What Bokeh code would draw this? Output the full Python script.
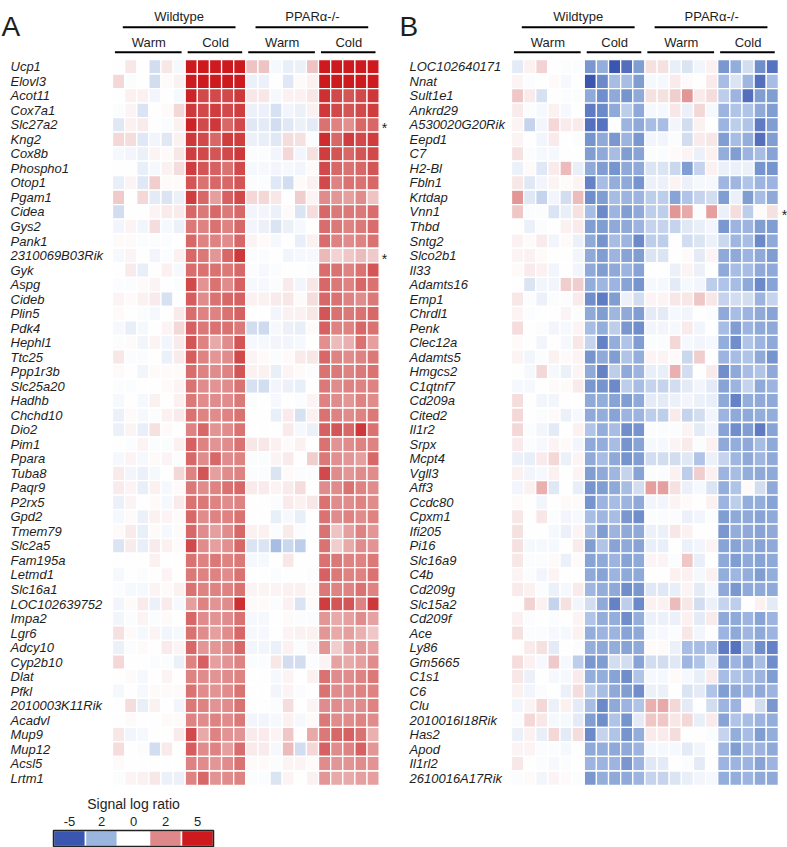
from bokeh.plotting import figure
from bokeh.models import Range1d, LinearColorMapper, ColumnDataSource
from bokeh.layouts import row
from bokeh.embed import file_html
from bokeh.resources import INLINE
from bokeh.core.properties import value
from bokeh.transform import transform
import numpy as np

# ---------------- data ----------------
genotypes = ["Wildtype", "PPARα-/-"]
conditions = ["Warm", "Cold", "Warm", "Cold"]
group_sizes = [6, 5, 6, 5]

legend_title = "Signal log ratio"
legend_values = [-5, -2, 0, 2, 5]
legend_labels = ["-5", "2", "0", "2", "5"]

genes_a = ["Ucp1", "Elovl3", "Acot11", "Cox7a1", "Slc27a2", "Kng2", "Cox8b", "Phospho1", "Otop1", "Pgam1",
           "Cidea", "Gys2", "Pank1", "2310069B03Rik", "Gyk", "Aspg", "Cideb", "Plin5", "Pdk4", "Hephl1",
           "Ttc25", "Ppp1r3b", "Slc25a20", "Hadhb", "Chchd10", "Dio2", "Pim1", "Ppara", "Tuba8", "Paqr9",
           "P2rx5", "Gpd2", "Tmem79", "Slc2a5", "Fam195a", "Letmd1", "Slc16a1", "LOC102639752", "Impa2", "Lgr6",
           "Adcy10", "Cyp2b10", "Dlat", "Pfkl", "2010003K11Rik", "Acadvl", "Mup9", "Mup12", "Acsl5", "Lrtm1"]
starred_a = ["Slc27a2", "2310069B03Rik"]

values_a = [
    [0, 0.5, 0, -1, 0.5, -0.2, 5, 5, 5, 5, 5, 1.3, 1.3, -0.2, -0.5, -0.4, 1.3, 5, 5, 5, 5, 5],
    [0.8, -0.1, 0, -1, 0.1, 0.3, 5, 5, 5, 5, 5, -0.4, -0.4, 0, -0.7, 0.1, 0.3, 5, 5, 5, 5, 5],
    [0, 0.3, 0.3, -0.3, 0, -0.2, 4.8, 4, 4, 4, 4.3, 0.5, 0.5, -0.2, 0.3, 0.3, 0.5, 4.5, 4, 3.8, 4, 4.3],
    [-0.1, 0.2, -0.8, 0, 0.1, 0.8, 4.3, 4, 4.2, 4, 4.2, -0.4, -0.4, -0.9, -0.3, -0.4, 0.3, 4.3, 4, 3.8, 4, 4.2],
    [-0.7, 0.3, 0.4, 0, -0.1, 0.3, 4.8, 4, 4.3, 3.5, 4, -0.7, -0.6, -1, -0.7, -0.4, -0.6, 3.3, 3, 2.7, 3.5, 3.5],
    [0.8, 0.7, -0.7, -0.3, -0.7, 0.3, 4.3, 4, 3.5, 4.2, 4.2, -0.4, -0.5, -0.7, 0.7, 0.6, -0.1, 4.6, 3.5, 4.2, 4, 4.2],
    [-0.2, -0.3, -0.4, 0.2, 0.1, 0.5, 4.2, 4, 3.8, 4, 4.3, -0.1, -0.1, -0.3, 0.8, -0.3, 0.6, 4.2, 3.8, 3.5, 3.8, 4],
    [0, 0, -0.5, -0.2, 0.3, 0.7, 4.2, 3.8, 3.6, 3.3, 4, -0.2, -0.2, -0.3, -0.2, -0.3, 0.1, 4, 3.5, 3.3, 3.5, 3.8],
    [-0.5, 0.2, -0.7, 1, 0.1, 0.1, 3.8, 3.3, 3.5, 3.5, 3.8, -0.1, -0.1, -0.7, -1, 0.1, 0.3, 4, 3, 3.3, 3.3, 3.5],
    [1.1, 0, 0.8, -0.6, -0.8, -0.4, 4.2, 3.5, 2.3, 3.6, 4, 0.8, 0.8, 0.5, 0, 1, 0.2, 2.8, 2.5, 2.3, 2.8, 1.3],
    [-1, 0, 0, 0.2, 0.4, 0.4, 3.5, 3.2, 3.5, 3.2, 3.5, -0.3, -0.3, -0.4, 0.1, -0.8, 0.7, 3.5, 3.2, 3.2, 3.2, 3.4],
    [-0.3, 0.2, -0.3, 0.7, -0.2, -0.4, 3.2, 3, 3.3, 3, 3.5, -0.3, -0.4, -0.8, -0.4, -0.2, 0, 3.4, 3.2, 3, 3.2, 3.4],
    [0.1, 0.1, -0.1, -0.1, -0.1, 0, 3.5, 3, 3, 2.8, 3.5, 0.2, 0.1, -0.2, 0, -0.5, 0.3, 3.4, 3, 2.8, 3, 3.3],
    [-0.2, 0.2, 0, -0.3, -0.1, 0.3, 3.5, 3.2, 2.5, 3.5, 4.3, -0.1, -0.1, 0, -0.3, -0.2, -0.2, 1.6, 0.9, 1.2, 1.5, 1.1],
    [0, 0.4, -0.5, 0, 0.3, -0.2, 3.4, 3.3, 3.3, 3.2, 3.5, -0.1, -0.2, -0.1, 0, 0, -0.1, 3.4, 3.3, 3, 3.3, 3.8],
    [-0.1, -0.1, 0.1, 0.2, 0, -0.1, 4, 2.6, 3.3, 2.8, 3.6, -0.2, -0.2, -0.1, 0.4, -0.3, 0.5, 3.5, 3.2, 3, 3.5, 3.3],
    [0.2, 0.1, 0.3, 0.4, -0.9, 0, 3.7, 2.8, 3.3, 3.5, 3.6, 0.3, 0.3, 0.4, 0.5, 0.1, 0.7, 3.5, 3.3, 3, 2.8, 3.2],
    [0.1, 0, -0.1, -0.2, 0, 0.4, 3.4, 3, 3, 3.3, 3.6, 0, 0, -0.3, 0.3, 0.3, 0.5, 3.8, 3.3, 3.2, 3.3, 3.5],
    [-0.2, -0.5, -0.2, 0, 0.2, 0.8, 3.6, 3.2, 3.3, 3.3, 3.2, -1, -1.1, -0.2, -0.4, -0.5, 0.1, 3.6, 3, 3, 3.5, 3.3],
    [-0.1, 0.1, -0.3, 0.2, -0.3, 0.4, 3.8, 3, 2, 2.8, 3.8, -0.2, -0.2, -0.3, -0.3, -0.2, 0, 2.7, 1.5, 1.8, 3.3, 2.3],
    [0.5, -0.1, -0.1, 0, -0.4, 0.4, 3.7, 3, 2.5, 2.8, 4, 0.2, 0.1, -0.1, 0.1, 0.4, 0.5, 3.5, 3, 2.8, 3, 3.2],
    [0.1, 0, -0.3, 0.1, 0.1, 0.1, 3.4, 3, 2.8, 3, 3.8, 0.3, 0.3, -0.5, 0.2, 0.1, -0.1, 3.3, 3.2, 3, 3.2, 3.3],
    [-0.1, -0.1, 0, 0, 0.1, 0.2, 3.3, 2.8, 2.6, 2.8, 3.3, -0.9, -1, -0.3, -0.4, -0.5, 0, 3.2, 2.8, 3, 3, 3],
    [-0.2, 0, -0.2, 0.3, 0, 0.3, 3.2, 2.8, 2.8, 2.8, 3.2, -0.1, 0, -0.2, 0, -0.1, 0.2, 3, 2.8, 2.5, 3, 2.8],
    [-0.4, 0.1, -0.2, -0.1, 0.3, 0.4, 3.3, 3, 2.8, 3, 3.3, 0, 0, -0.5, 0.4, -0.9, 0.3, 3.3, 3, 2.8, 3, 3.2],
    [-0.4, 0.2, -0.5, 0.6, 0.1, 0, 3, 3.5, 2.6, 2.8, 3.3, 0, 0, 0, 0.4, -0.2, -0.4, 3.6, 3.8, 3.5, 4.3, 3.3],
    [0, -0.1, 0.2, -0.1, -0.1, 0.3, 3.6, 3, 2.6, 2.8, 3.3, 0.5, 0.5, 0.3, 0.1, 0.3, 0, 3.3, 2.6, 2.8, 3, 3],
    [-0.2, 0.2, -0.2, 0.1, 0.2, -0.1, 3.5, 2.8, 3.5, 2.8, 3, -0.1, -0.1, 0.2, 0.4, 0, 1, 3.2, 2.7, 2.5, 2.3, 3.5],
    [0.4, -0.3, -0.4, -0.2, 0, 0.8, 3, 3.8, 2.3, 2.8, 3, -0.1, -0.1, -0.8, 0.1, -0.1, -0.1, 4, 2.8, 2.5, 2.8, 2.8],
    [0.4, 0.2, -0.5, 0.3, -0.2, 0.1, 3.2, 2.8, 3, 3.3, 3.5, 0.4, 0.4, 0.2, 0.4, 0.7, 0, 2.8, 2.8, 3.3, 3, 2.8],
    [-0.4, 0.2, 0, 0.1, -0.2, 0.4, 3.3, 3.2, 3, 2.8, 3, 0, 0, -0.1, 0.4, 0.3, 0.5, 3.3, 2.8, 2.8, 3, 2.8],
    [-0.2, 0.1, -0.4, 0.3, 0.2, 0.1, 3.5, 2.8, 3, 3, 3.3, 0, 0, -0.5, -0.2, -0.5, 0, 3.3, 2.8, 3, 2.8, 3],
    [0.1, 0.4, -0.5, 0.1, -0.2, 0.1, 3.5, 2.8, 2.3, 2.8, 3.5, 0.3, 0.3, -0.1, 0.4, -0.1, 0, 3.3, 1.3, 2.3, 3, 2.5],
    [-0.8, 0.4, -0.5, 0.4, 0.3, 0.1, 4, 2.8, 2.3, 2.7, 3.5, -0.8, -0.8, -2, -1.2, -1.5, 0, 3.3, 1, 2, 2.8, 2.6],
    [0, 0, 0, 0.3, 0, 0, 3.3, 3, 3.2, 3, 3.2, -0.2, -0.2, 0, 0.5, 0, 0, 3.3, 3.2, 3, 3, 3.2],
    [-0.2, 0, -0.1, 0, 0.2, 0, 3.2, 3, 3, 2.8, 3.3, 0, 0, -0.1, 0, 0, -0.1, 3.6, 3.2, 3, 3, 3.3],
    [-0.1, -0.2, -0.2, 0.2, 0.1, 0.3, 3.3, 3, 3, 3, 3.3, 0.2, 0.2, 0.2, 0.3, 0.3, 0.1, 3.2, 3, 3, 3.3, 3],
    [-0.3, 0.1, 0.4, -0.4, 0.4, -0.2, 2.3, 3, 2.6, 2.8, 4.5, 0.1, 0.1, -0.1, 0.3, -0.8, 0.1, 4.2, 3.8, 3.8, 3, 4.3],
    [-0.3, -0.1, 0.2, -0.1, 0.1, 0, 3.5, 2.8, 2.6, 2.8, 3.3, -0.2, -0.2, 0, 0.1, -0.1, -0.1, 2.5, 2, 2.3, 2.8, 2.2],
    [0.6, 0.1, -0.2, 0.2, -0.3, -0.2, 3.3, 2.8, 2.3, 2.8, 3.5, -0.2, -0.2, 0, 0.2, 0.3, 0.3, 2.5, 2, 2.3, 1.8, 1.2],
    [-0.4, -0.1, 0.1, 0, 0.4, 0.2, 3.5, 2.5, 2.5, 2.8, 3.5, -0.3, -0.3, -0.4, 0.3, -0.1, 0.2, 2.5, 1, 2.2, 2.5, 2.2],
    [0.8, 0, 0, -0.1, -0.1, -0.4, 3, 3.6, 2.3, 2.6, 3, -0.1, -0.1, 0.5, -1, -1, -0.1, 0.2, 2.2, 2, 2.3, 2.8],
    [0, 0.1, -0.2, 0, 0.2, 0, 3, 2.8, 2.6, 2.8, 3, 0, 0, -0.2, 0.2, 0, 0.3, 3.3, 2.8, 2.8, 3, 3.2],
    [-0.2, 0, -0.2, 0.1, 0.1, 0.1, 3.3, 2.8, 2.6, 2.8, 3.3, 0, 0, -0.3, 0.2, -0.1, 0, 3.3, 2.8, 2.8, 3, 3],
    [0, 0.7, -0.5, 0.3, 0, -0.3, 3.2, 3, 2.6, 2.8, 3.3, 0, 0, -0.1, 0.7, 0, 0.2, 2.8, 2.8, 2.6, 2.8, 3],
    [0, 0.1, 0, 0, 0.1, 0.1, 3, 2.8, 3, 2.8, 3.2, -0.3, -0.3, -0.2, 0.3, -0.2, 0.1, 3.2, 2.8, 2.8, 3, 2.8],
    [0.5, -0.3, -0.2, 0, 0, 0.4, 4, 2, 3, 2.6, 2.6, 0.4, 0.4, 0.2, 1.2, 0, 2, 3.2, 3.5, 3.6, 3.3, 1.8],
    [0.7, 0, -0.1, -1, 0.4, 0, 3.7, 2.8, 3, 2.3, 3.4, 0.4, 0.4, -0.2, 1.5, -1, 0.8, 3.6, 2.8, 3, 3.6, 2.5],
    [0.1, 0, 0, 0, 0, 0, 3, 2.8, 2.5, 2.8, 3.3, 0.1, 0.1, -0.1, 0.2, 0.2, 0.1, 2.8, 2.5, 2.6, 2.8, 2.6],
    [-0.1, 0.2, 0.3, 0.5, -0.4, -0.4, 3, 3.5, 2.6, 2.8, 3, -0.1, -0.1, -0.8, 0.2, 0, 0.3, 2.5, 2, 2, 2.3, 2.3],
]

genes_b = ["LOC102640171", "Nnat", "Sult1e1", "Ankrd29", "A530020G20Rik", "Eepd1", "C7", "H2-Bl", "Fbln1", "Krtdap",
           "Vnn1", "Thbd", "Sntg2", "Slco2b1", "Il33", "Adamts16", "Emp1", "Chrdl1", "Penk", "Clec12a",
           "Adamts5", "Hmgcs2", "C1qtnf7", "Cd209a", "Cited2", "Il1r2", "Srpx", "Mcpt4", "Vgll3", "Aff3",
           "Ccdc80", "Cpxm1", "Ifi205", "Pi16", "Slc16a9", "C4b", "Cd209g", "Slc15a2", "Cd209f", "Ace",
           "Ly86", "Gm5665", "C1s1", "C6", "Clu", "2010016I18Rik", "Has2", "Apod", "Il1rl2", "2610016A17Rik"]
starred_b = ["Vnn1"]

values_b = [
    [-0.6, 0.3, 0.9, 0, -0.1, -0.1, -3.2, -2.5, -5, -4.3, -3, 0.6, 0.6, -0.5, -0.8, -0.3, 0.3, -3.2, -2.5, -1, -3.5, -4.2],
    [0.2, -0.1, 0, 0.1, -0.2, 0, -5, -3.6, -2, -2, -3, -0.2, -0.2, 0.4, 0.1, 0, 0.4, -2, -0.8, -2.2, -4.3, -2],
    [1.2, 0.4, -0.9, 0, -0.1, -0.1, -2.6, -3.5, -2.6, -3.3, -2.6, 0.6, 0.6, 1, 2.5, 0.4, 0.7, -1.5, -2.3, -4.3, -3, -3],
    [0.4, -0.1, -0.2, 0.3, -0.2, 0, -4, -3.6, -2.6, -1.5, -2.6, -0.2, -0.2, 0.5, -0.4, 0.8, -0.2, -2.3, -1.8, -1.8, -2.6, -3],
    [0.2, -1.3, -0.3, 0.8, 0.4, 0.4, -4.3, -4.2, 0, -2.3, -2.6, -2, -2, -0.3, -1, 0.3, 0, -2.3, -1.5, -1.8, -4, -3],
    [0.2, 0, -0.3, 0.4, 0, -0.1, -3.3, -2.6, -3.2, -2.3, -3.2, -0.3, -0.3, -0.1, -1, 0.4, 0.5, -3, -2, -2.5, -4.3, -3],
    [0.6, -0.1, -0.2, -0.2, 0, 0, -3, -2.6, -2, -3, -2.8, -0.1, -0.1, 0.1, 0.2, -0.4, 0.3, -2.5, -3, -2.3, -2, -2.8],
    [-0.4, 0.1, -0.7, 0.4, 1.5, -0.5, -2.6, -3, -3.3, -2.6, -2.6, -0.8, -0.8, -1.2, -3, -1.3, 0.3, -0.4, -0.4, -0.4, -3.3, -3.3],
    [0.5, -0.7, -0.3, 0.2, 0.1, 0.2, -3.8, -2, -2.5, -2.6, -3.3, -0.4, -0.4, 0.2, -0.4, -0.2, -0.2, -2.2, -2.2, -1.8, -2.3, -2.3],
    [2.5, -0.7, -1.3, -0.3, -1, 1.5, -3.5, -3, -2, -2.3, -2.3, -1.5, -1.5, -2.8, -1.8, -1.3, -1, -3, -0.4, -3, -2, -2.6],
    [1.2, -0.1, -0.1, -0.8, -0.5, 0.6, -2, -3.6, -2.3, -3, -2.6, -1.5, -1.5, 2.5, 2, -0.1, 2.3, -0.4, 0.7, -1.5, 0.1, 0.6],
    [0, -0.4, -0.1, 0, 0.3, 0.4, -3, -3, -2.6, -2.6, -2.3, -1.3, -1.3, -1.3, -0.7, -0.5, -0.3, -3.2, -2.3, -2.3, -3, -3],
    [0.3, 0.1, 0.4, -0.3, 0.1, -0.4, -2.6, -3.3, -2, -2.3, -3.6, -1.5, -1.5, 0, -1, -0.8, -0.4, -1.2, -2.2, -2, -3.6, -2.6],
    [0.2, 0.3, 0.1, 0, 0, -0.3, -2.6, -3, -2.3, -2.8, -3, -0.8, -0.8, 0, 0.1, -0.6, 0.2, -2.6, -2.6, -2.3, -2.6, -3],
    [0.1, 0.4, 0.3, -0.3, 0, -0.3, -2.6, -3, -2.6, -2.3, -2.8, 0, 0, -0.4, 0.2, -0.4, 0, -2.6, -2, -2, -2.6, -2.6],
    [0, -0.8, -0.3, -0.3, 1, 1, -2.5, -2.2, -2.3, -2.8, -3.3, -0.2, -0.2, -0.6, -0.2, -0.3, -1.5, -1.8, -2, -2.6, -3.6, -2.8],
    [0.5, -0.1, -0.4, -0.1, -0.1, 0.4, -3.5, -4, -3, -0.4, -1, 0.2, 0.2, 0.5, 0.5, 1.2, 0.5, -1.3, -1, -1, -2.3, -1.3],
    [0.2, -0.1, 0, 0, 0.2, -0.1, -2.6, -3, -2.2, -2.6, -3, -0.6, -0.6, -0.2, -0.3, 0, -0.1, -2.6, -2, -2.3, -2.6, -2.8],
    [0.7, 0, -0.1, -0.3, -0.2, 0.2, -2, -2.5, -1.5, -3.2, -3.5, -0.3, -0.3, -0.2, 0.4, -0.3, 0, -2, -3, -2.3, -2.6, -2.6],
    [0.1, 0, -0.3, 0, -0.2, 0.5, -1.3, -3.8, -2.5, -1.8, -3, -0.1, -0.1, 0.8, -0.2, -0.3, -0.2, -2.5, -3.5, -1.8, -2.3, -2.6],
    [0.2, -0.3, -0.1, 0.3, 0.1, 0.2, -3.3, -2.6, -3, -1.8, -2.5, 0.2, 0.2, 0.1, -1.2, 1, 0, -2.3, -2, -1.8, -2.6, -3.3],
    [0, -0.2, 0.8, -0.2, -0.4, 0.2, -2.6, -3.8, -1.5, -2.6, -2.3, -0.5, -0.5, 1.8, -1, 0, 0.4, -3.5, -2.6, -2, -1.8, -2.6],
    [-0.2, -0.2, 0, 0.1, 0.1, 0.4, -3.2, -3.3, -3.6, -1.5, -2, -1.3, -1.3, -1, -0.6, -0.3, -0.6, -2.8, -2.3, -1.3, -2.6, -2.3],
    [0.7, 0, -0.3, -0.3, 0, 0, -2.6, -2.5, -2.8, -3, -2.6, -0.6, -0.6, -0.4, -0.3, -0.4, -0.5, -2.6, -3.8, -2.5, -2.6, -2.6],
    [0.8, 0, -0.1, 0.1, -0.4, -0.2, -2.6, -2.5, -2.8, -2.3, -2.3, -1.5, -1.5, 0.4, -1.3, -1, -0.3, -2.3, -2.6, -2.6, -2.5, -2.5],
    [0.8, -0.1, -0.3, -0.6, 0, 0.3, -1.8, -2.5, -2, -3.5, -3.3, -0.1, -0.1, -0.1, 0.2, -0.6, -0.3, -2.8, -3.5, -3, -4, -2.8],
    [0.4, -0.1, -0.2, 0.2, 0.1, -0.3, -2.6, -2.5, -2, -3.3, -2.8, -0.2, -0.2, 0.2, 0.4, -0.1, 0.3, -2.6, -2.5, -2.6, -2, -2.6],
    [-0.4, -0.5, 0.4, 0.8, -0.4, 0.2, -2.6, -2, -2.6, -3.3, -3, -1, -1, -1, -0.7, -1.8, -0.4, -1.3, -2.2, -2.6, -2.2, -2.6],
    [0.3, -0.3, -0.2, 0.3, 0, 0.2, -3, -2.6, -2.2, -1.3, -2.8, -0.1, -0.1, 0.3, -1.5, 1, 0.3, -2.3, -2, -2.5, -2.6, -2.6],
    [-0.3, 0.3, 1.8, -0.7, 0, -0.5, -3.3, -3, -2.6, -2, -1, 2.3, 2.3, 0.6, -0.4, -0.2, -0.8, -2.5, -1.8, 0.1, -1, -2.6],
    [0.1, 0, -0.3, 0, 0.1, 0.1, -3.3, -2.3, -2, -2.3, -2.6, -0.3, -0.3, 0.2, 0.1, 0, 0.3, -2.3, -1.5, -2.5, -2.5, -2.8],
    [0.5, 0, 0.5, -0.1, -0.3, -0.2, -2, -2.2, -2, -3.2, -3.5, -0.1, -0.1, -0.1, -0.4, -0.3, -0.1, -3, -2.6, -2.6, -2.8, -2.6],
    [0.6, 0, 0, -0.2, -0.4, 0.2, -2, -3, -2.3, -2.6, -2.6, -0.4, -0.4, 0.5, 0.3, 0, 0, -3.2, -2.5, -2.6, -2.8, -2.6],
    [0.6, -0.2, -0.2, -0.2, 0, 0.4, -3, -1.8, -2.8, -2.6, -2.8, -0.5, -0.5, 0, -0.4, -0.3, 0.2, -2.8, -2.8, -2.5, -2.8, -2.6],
    [0.5, -0.1, -0.1, 0.1, -0.4, 0.1, -2.8, -2.6, -2.3, -2.8, -2.6, 0.2, 0.2, -0.1, 1.2, -0.5, 0, -2.6, -3, -2.6, -2.8, -2.6],
    [0.2, -0.1, -0.3, 0.2, 0, 0, -2.6, -2.8, -2.3, -2.6, -2.6, 0, 0, 0.3, 0.3, -0.2, 0.3, -2.5, -2.2, -2.5, -3, -2.5],
    [0.4, 0.3, -0.1, -0.4, -0.2, 0.4, -2.2, -2.5, -2.6, -3.5, -3.2, -0.7, -0.7, -0.5, 0.2, -0.6, -0.2, -2.6, -3.2, -2.6, -2.6, -2.6],
    [0, 0.9, 0.3, -1.3, 0.6, -0.3, -1, -2.6, -3.8, -1.5, -3.6, 0.3, 0.3, 1.5, 0.5, -1, -0.4, -1.3, -1.5, 0, 0.3, -0.6],
    [0.3, -0.1, 0, -0.1, 0, 0.2, -1.8, -2.5, -2.5, -3.5, -2.5, -0.4, -0.4, -0.4, 0.3, -0.6, 0.4, -2.6, -2.6, -2.3, -2.8, -2.3],
    [0.6, -0.1, -0.1, -0.2, -0.2, 0.3, -2.5, -2.3, -2.3, -2.8, -2.6, -0.2, -0.2, -0.1, 0.5, -0.3, 0, -2.3, -2.6, -2.2, -2.6, -2.3],
    [0, 0.4, 0.6, -0.6, 0, -0.1, -2.5, -2.6, -2.5, -2.8, -2.6, 0.1, 0.1, -0.4, -2, -2, -2, -4, -4.2, -2, -3.5, -3.8],
    [0.7, 0.3, -0.2, 1.1, -0.2, -1.5, -3.2, -3, -1, -1, -2.8, -1, -1, -0.7, -2.2, -1.8, -0.6, -3.2, -2.3, -2.8, -2, -3.5],
    [0.5, -0.4, 0, -0.2, -0.2, 0.4, -2.5, -2.5, -2.8, -3.5, -1.8, -0.2, -0.2, 0.1, -0.2, -0.5, 0.4, -2, -1.8, -2, -2.3, -3],
    [0.3, -0.3, -0.1, 0, -0.4, 0.7, -1.5, -2, -2.6, -3, -3.5, -0.4, -0.4, 0, -0.8, -0.6, -1.8, -3, -2.6, -2.3, -2.6, -2.3],
    [-0.3, 0.2, 0.8, -0.4, 0.3, -0.6, -2, -3.6, -2.6, -2.3, -1.8, 1.8, 2, 0.8, -0.6, 0, -1, -2.3, -2.3, 0.1, -1, -3.2],
    [-0.1, 0.8, 0.5, -0.2, -0.2, -0.6, -3, -3.5, -1.8, -3.3, -0.6, 1.2, 1.2, 0.5, 0.8, -0.5, 0.4, -2.8, -1.8, -2, -2.3, -2.5],
    [-0.4, 0.3, -0.5, 0.8, -0.6, 0.7, -3.6, -1.3, -1.8, -3.3, -2.5, 0.4, 0.4, 0.7, 0, 0, -0.1, -1.3, -2.5, -2, -3, -2.5],
    [0.2, 0.2, -0.1, -0.1, -0.2, 0, -2.6, -2.5, -2.6, -2.6, -2.3, -0.2, -0.2, -0.2, -0.6, -0.3, 0, -2.3, -3, -2.2, -2.3, -2.6],
    [0.5, 0, -0.1, -0.2, -0.1, 0, -2.3, -2.3, -2.3, -3.2, -2.3, -0.7, -0.6, 0, -0.1, -0.6, 0, -2.3, -2.3, -2.3, -2.8, -2.3],
    [-0.1, 0.1, -0.3, 0.2, 0.1, -0.1, -3.2, -2.5, -2.6, -2.6, -2.3, -1.3, -1.3, -0.8, -0.5, -0.3, -0.2, -2.5, -2.5, -2.3, -2.6, -2.6],
]

# ---------------- styling / layout ----------------
FONT = "Liberation Sans"
TEXT_COLOR = "#1e1e1e"
CANVAS_TOP = 0
CANVAS_BOTTOM = 847
ROW0 = 59.0
RH = 14.52

# colour scale (style): anchor positions and colours
anchor_v = [-5, -4.3, -3.5, -2.6, -2, -1, 0, 1, 2, 2.8, 3.5, 4.2, 5]
anchor_c = [(58, 86, 176), (84, 112, 190), (112, 142, 203), (143, 170, 217), (168, 190, 228),
            (210, 222, 240), (255, 255, 255), (241, 206, 206), (232, 170, 170), (224, 140, 140),
            (216, 105, 105), (208, 62, 64), (204, 26, 31)]
palette = []
for v in np.linspace(-5, 5, 256):
    rgb = [int(round(np.interp(v, anchor_v, [c[k] for c in anchor_c]))) for k in range(3)]
    palette.append("#%02x%02x%02x" % tuple(rgb))
mapper = LinearColorMapper(palette=palette, low=-5, high=5)
legend_colors = ["#3a56b0", "#9bb6de", "#ffffff", "#de888a", "#cc1a1f"]


def make_panel(letter, genes, values, starred, left, width, col0, cw, label_px, star_px, letter_px, legend=False):
    def X(px):
        return (px - col0) / cw

    def Y(py):
        return (py - ROW0) / RH

    p = figure(width=width, height=CANVAS_BOTTOM - CANVAS_TOP,
               x_range=Range1d(X(left), X(left + width)),
               y_range=Range1d(Y(CANVAS_BOTTOM), Y(CANVAS_TOP)),
               toolbar_location=None, output_backend="svg",
               x_axis_type=None, y_axis_type=None, min_border=0,
               outline_line_color=None)
    p.grid.visible = False

    xs, ys, vs = [], [], []
    for r, rowvals in enumerate(values):
        for c, v in enumerate(rowvals):
            xs.append(c + 0.5)
            ys.append(r + 0.5)
            vs.append(v)
    src = ColumnDataSource(dict(x=xs, y=ys, v=vs))
    p.rect(x="x", y="y", width=1, height=1, source=src,
           fill_color=transform("v", mapper), line_color="white", line_width=1.3)

    # gene labels
    p.text(x=[X(label_px)] * len(genes), y=[i + 0.5 for i in range(len(genes))], text=genes,
           text_font=value(FONT), text_font_style="italic", text_font_size="13px",
           text_baseline="middle", text_align="left", text_color=TEXT_COLOR)

    # stars
    sy = [genes.index(g) + 0.72 for g in starred]
    p.text(x=[X(star_px)] * len(sy), y=sy, text=["*"] * len(sy),
           text_font=value(FONT), text_font_size="14px", text_baseline="middle",
           text_align="center", text_color=TEXT_COLOR)

    # headers
    edges = np.concatenate([[0], np.cumsum(group_sizes)])
    cond_x = [(edges[i] + edges[i + 1]) / 2 for i in range(4)]
    p.text(x=cond_x, y=[Y(42)] * 4, text=conditions, text_font=value(FONT),
           text_font_size="13px", text_baseline="middle", text_align="center", text_color=TEXT_COLOR)
    p.segment(x0=[edges[i] + 0.2 for i in range(4)], x1=[edges[i + 1] - 0.3 for i in range(4)],
              y0=[Y(51.7)] * 4, y1=[Y(51.7)] * 4, line_color="black", line_width=2)
    geno_x = [(edges[0] + edges[2]) / 2, (edges[2] + edges[4]) / 2]
    p.text(x=geno_x, y=[Y(15.5)] * 2, text=genotypes, text_font=value(FONT),
           text_font_size="13px", text_baseline="middle", text_align="center", text_color=TEXT_COLOR)
    p.segment(x0=[edges[0] + 0.85, edges[2] + 0.8], x1=[edges[2] - 0.85, edges[4] - 0.9],
              y0=[Y(26.7)] * 2, y1=[Y(26.7)] * 2, line_color="black", line_width=2)

    # panel letter
    p.text(x=[X(letter_px)], y=[Y(25.5)], text=[letter], text_font=value(FONT),
           text_font_size="28px", text_baseline="alphabetic", text_align="left", text_color=TEXT_COLOR)

    if legend:
        sw = 32 / cw
        lx0 = X(53)
        lcx = [lx0 + (i + 0.5) * sw for i in range(len(legend_values))]
        ly = Y(838)
        lh = 16 / RH
        p.rect(x=lcx, y=[ly] * len(lcx), width=sw, height=lh,
               fill_color=legend_colors, line_color="white", line_width=1.5)
        p.rect(x=[lx0 + sw * len(legend_values) / 2], y=[ly], width=sw * len(legend_values), height=lh,
               fill_color=None, line_color="#222222", line_width=1.5)
        p.text(x=lcx, y=[Y(821)] * len(lcx), text=legend_labels, text_font=value(FONT),
               text_font_size="13px", text_baseline="middle", text_align="center", text_color=TEXT_COLOR)
        p.text(x=[lx0 + sw * len(legend_values) / 2], y=[Y(803)], text=[legend_title],
               text_font=value(FONT), text_font_size="14px", text_baseline="middle",
               text_align="center", text_color=TEXT_COLOR)
    return p


pa = make_panel("A", genes_a, values_a, starred_a, left=0, width=395, col0=112.0, cw=12.12,
                label_px=10, star_px=384, letter_px=1, legend=True)
pb = make_panel("B", genes_b, values_b, starred_b, left=395, width=392, col0=511.0, cw=12.13,
                label_px=409, star_px=784, letter_px=399)

layout = row(pa, pb)
open("out.html", "w").write(file_html(layout, INLINE))
